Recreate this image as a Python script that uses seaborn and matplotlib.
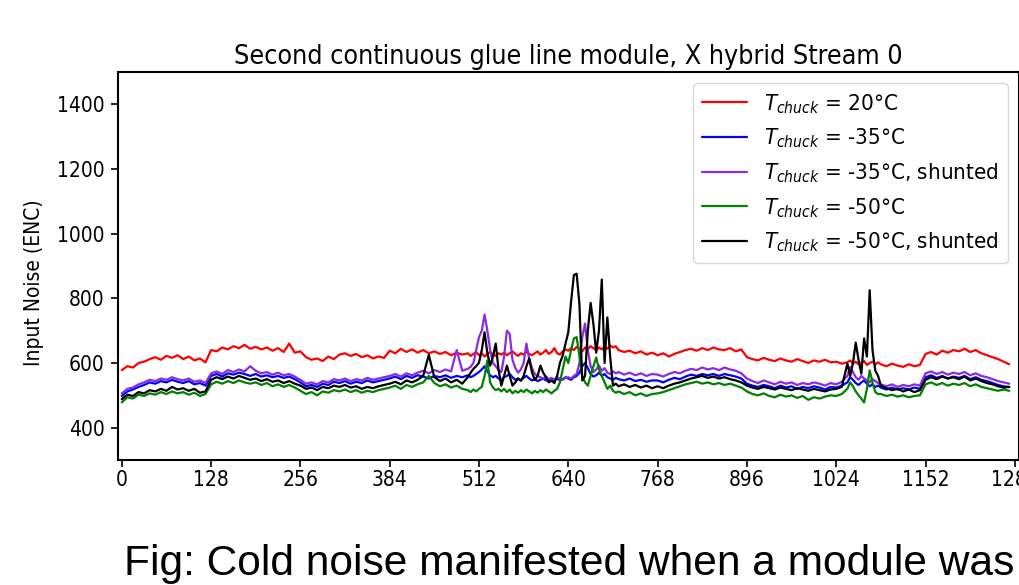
import numpy as np
import matplotlib
matplotlib.use("Agg")
import matplotlib.pyplot as plt
import seaborn as sns

# channel grid: every 8 channels, every 4 around the noisy regions
channels = np.r_[0:496:8, 496:712:4, 712:1040:8, 1040:1088:4, 1088:1280:8]

noise_20 = [
    578, 590, 586, 600, 604, 612, 618, 610, 622, 616, 624, 612, 620, 608, 614, 602,
    640, 636, 648, 642, 652, 646, 656, 644, 650, 642, 648, 638, 646, 634, 660, 632,
    636, 618, 610, 614, 606, 620, 612, 626, 630, 622, 628, 618, 624, 614, 620, 616,
    638, 630, 644, 634, 642, 632, 640, 630, 636, 628, 634, 624, 632, 626,
    630, 622, 628, 634, 624, 630, 620, 628, 634, 626, 622, 630,
    626, 632, 624, 630, 636, 628, 622, 630, 626, 634, 628, 624,
    630, 636, 626, 632, 640, 628, 634, 646, 630, 626, 636, 642,
    638, 646, 640, 650, 644, 636, 648, 642, 652, 646, 640, 648,
    642, 650, 644, 654, 648, 652,
    640, 634, 638, 630, 636, 626, 632,
    624, 630, 620, 628, 634, 640, 644, 638, 646, 640, 648, 642, 640, 646, 636, 642,
    618, 612, 608, 616, 610, 606, 614, 608, 604, 612, 606, 600, 608, 604, 610, 602,
    604, 598,
    602, 608, 598, 604, 596, 600, 606, 594, 600, 604, 596, 602,
    596, 590, 598, 592, 588, 596, 590, 594,
    628, 634, 626, 638, 632, 640, 636, 644, 634, 640, 630, 624, 618, 612, 604, 596,
]

noise_m35 = [
    498, 512, 518, 526, 532, 540, 536, 544, 540, 548, 542, 538, 544, 534, 538, 530,
    560, 566, 558, 568, 564, 570, 566, 560, 566, 558, 562, 556, 560, 554, 558, 550,
    540, 528, 532, 526, 536, 532, 542, 538, 544, 536, 542, 538, 546, 540, 544, 548,
    552, 558, 550, 560, 554, 562, 558, 552, 560, 556, 562, 554, 560, 556,
    562, 556, 560, 566, 572, 580, 590, 574, 562, 556, 560, 552,
    548, 556, 560, 566, 556, 548, 552, 546, 554, 560, 552, 546,
    550, 544, 548, 552, 546, 550, 544, 548, 552, 546, 550, 556,
    552, 548, 556, 560, 570, 590, 600, 584, 566, 558, 562, 570,
    560, 566, 556, 552, 548, 554,
    550, 546, 552, 544, 548, 542, 546,
    546, 540, 548, 554, 550, 558, 564, 560, 566, 562, 566, 560, 566, 562, 558, 552,
    536, 530, 526, 532, 528, 522, 530, 524, 528, 520, 526, 522, 528, 524, 518, 526,
    524, 530,
    540, 556, 548, 538, 532, 540, 546, 536, 528, 534, 526, 530,
    524, 518, 524, 518, 522, 518, 524, 520,
    556, 562, 554, 560, 552, 558, 554, 560, 550, 556, 548, 544, 538, 532, 528, 526,
]

noise_m35_shunted = [
    506, 520, 524, 534, 540, 548, 544, 552, 548, 556, 550, 546, 552, 542, 546, 538,
    568, 574, 566, 578, 572, 580, 574, 590, 576, 568, 572, 564, 570, 562, 566, 558,
    548, 536, 540, 534, 544, 540, 550, 546, 552, 544, 550, 546, 554, 548, 552, 556,
    560, 566, 558, 568, 562, 570, 576, 568, 578, 572, 580, 574, 640, 576,
    582, 588, 600, 640, 680, 700, 750, 700, 640, 600, 590, 578,
    572, 620, 700, 690, 610, 585, 570, 580, 600, 660, 612, 584,
    566, 560, 556, 552, 558, 550, 554, 548, 556, 552, 548, 554,
    556, 552, 560, 566, 600, 680, 722, 640, 590, 572, 580, 592,
    576, 584, 570, 566, 574, 568,
    572, 564, 570, 562, 568, 560, 566,
    564, 558, 566, 572, 568, 576, 582, 578, 586, 580, 584, 578, 586, 580, 576, 568,
    552, 544, 538, 546, 540, 534, 542, 536, 540, 532, 538, 534, 540, 536, 530, 538,
    534, 542,
    560, 588, 572, 556, 548, 560, 552, 546, 540, 550, 544, 538,
    534, 528, 534, 526, 532, 528, 534, 530,
    568, 574, 566, 572, 564, 570, 566, 572, 562, 568, 560, 556, 550, 544, 540, 536,
]

noise_m50 = [
    478, 494, 490, 502, 498, 506, 502, 510, 504, 512, 506, 510, 502, 508, 498, 504,
    534, 542, 536, 544, 538, 546, 540, 536, 540, 532, 538, 528, 534, 526, 532, 524,
    514, 504, 510, 500, 512, 508, 516, 512, 518, 510, 516, 508, 514, 510, 516, 520,
    524, 530, 520, 532, 526, 534, 540, 560, 538, 528, 534, 524, 530, 520,
    516, 510, 518, 512, 520, 526, 560, 608, 540, 524, 516, 520,
    512, 520, 510, 518, 506, 514, 508, 516, 510, 518, 512, 506,
    514, 508, 516, 510, 518, 512, 506, 514, 520, 540, 580, 620,
    600, 640, 676, 680, 620, 560, 540, 530, 560, 590, 617, 580,
    560, 540, 520, 530, 514, 508,
    512, 504, 510, 500, 506, 498, 504,
    506, 510, 516, 522, 528, 534, 538, 542, 536, 540, 534, 538, 532, 536, 530, 524,
    512, 504, 500, 506, 498, 494, 502, 496, 500, 492, 498, 486, 494, 490, 496, 500,
    498, 504,
    520, 540, 528, 512, 500, 490, 478, 520, 577, 540, 510, 504,
    504, 498, 502, 496, 500, 494, 498, 500,
    534, 540, 532, 538, 530, 536, 532, 538, 528, 534, 526, 522, 518, 514, 518, 514,
]

noise_m50_shunted = [
    488, 502, 498, 510, 506, 516, 512, 520, 514, 526, 518, 522, 514, 520, 508, 512,
    548, 556, 550, 558, 552, 560, 554, 548, 552, 544, 550, 542, 546, 538, 544, 536,
    530, 520, 524, 516, 526, 522, 530, 526, 532, 524, 528, 520, 526, 522, 528, 532,
    536, 542, 534, 546, 540, 548, 560, 625, 556, 544, 552, 540, 548, 536,
    556, 570, 582, 590, 601, 640, 695, 630, 592, 620, 660, 580,
    530, 560, 592, 560, 530, 540, 552, 545, 560, 590, 614, 570,
    548, 560, 592, 570, 556, 540, 546, 538, 560, 600, 623, 660,
    695, 790, 872, 876, 780, 546, 560, 700, 786, 720, 632, 700,
    858, 600, 741, 620, 530, 536,
    528, 534, 526, 532, 524, 530, 522,
    528, 522, 530, 536, 540, 546, 552, 556, 560, 554, 558, 552, 556, 550, 546, 540,
    530, 524, 520, 526, 522, 518, 524, 520, 516, 522, 518, 514, 520, 516, 512, 518,
    520, 526,
    598, 560, 600, 663, 610, 567, 676, 620, 825, 640, 577, 560,
    530, 522, 516, 520, 512, 518, 510, 516,
    548, 556, 550, 558, 552, 556, 550, 558, 546, 552, 544, 538, 534, 528, 524, 526,
]

labels = [
    r"$T_{chuck}$ = 20°C",
    r"$T_{chuck}$ = -35°C",
    r"$T_{chuck}$ = -35°C, shunted",
    r"$T_{chuck}$ = -50°C",
    r"$T_{chuck}$ = -50°C, shunted",
]
colors = ["red", "blue", "blueviolet", "green", "black"]
series = [noise_20, noise_m35, noise_m35_shunted, noise_m50, noise_m50_shunted]
xticks = np.arange(0, 1281, 128)

sns.set_style("ticks", {"axes.edgecolor": "black", "text.color": "black",
                        "axes.labelcolor": "black", "xtick.color": "black",
                        "ytick.color": "black"})
plt.rcParams["font.family"] = ["DejaVu Sans"]
plt.rcParams["font.stretch"] = "condensed"
plt.rcParams["mathtext.fontset"] = "dejavusans"

fig = plt.figure(figsize=(10.19, 5.85), dpi=100)
ax = fig.add_axes([0.1154, 0.2137, 0.8846, 0.6632])

for vals, c, lab in zip(series, colors, labels):
    sns.lineplot(x=channels, y=vals, color=c, label=lab, lw=1.6, ax=ax)

ax.set(xlim=(-6, 1286), ylim=(300, 1500), xticks=xticks)
ax.set_yticks(np.arange(400, 1401, 200))
ax.tick_params(labelsize=15, length=5, width=1.2)
ax.tick_params(axis="x", pad=2.5)
ax.tick_params(axis="y", pad=4.5)
for s in ax.spines.values():
    s.set_linewidth(1.5)
ax.set_ylabel("Input Noise (ENC)", fontsize=15)
ax.yaxis.set_label_coords(-0.082, 0.456)
ax.set_title("Second continuous glue line module, X hybrid Stream 0", fontsize=19.3)
ax.legend(loc="upper right", fontsize=16, labelspacing=0.5)

fig.text(0.1217, 0.017, "Fig: Cold noise manifested when a module was",
         family=["Liberation Sans Narrow", "Liberation Sans"], fontsize=30.6,
         va="baseline")

fig.savefig("out.png", dpi=100)
